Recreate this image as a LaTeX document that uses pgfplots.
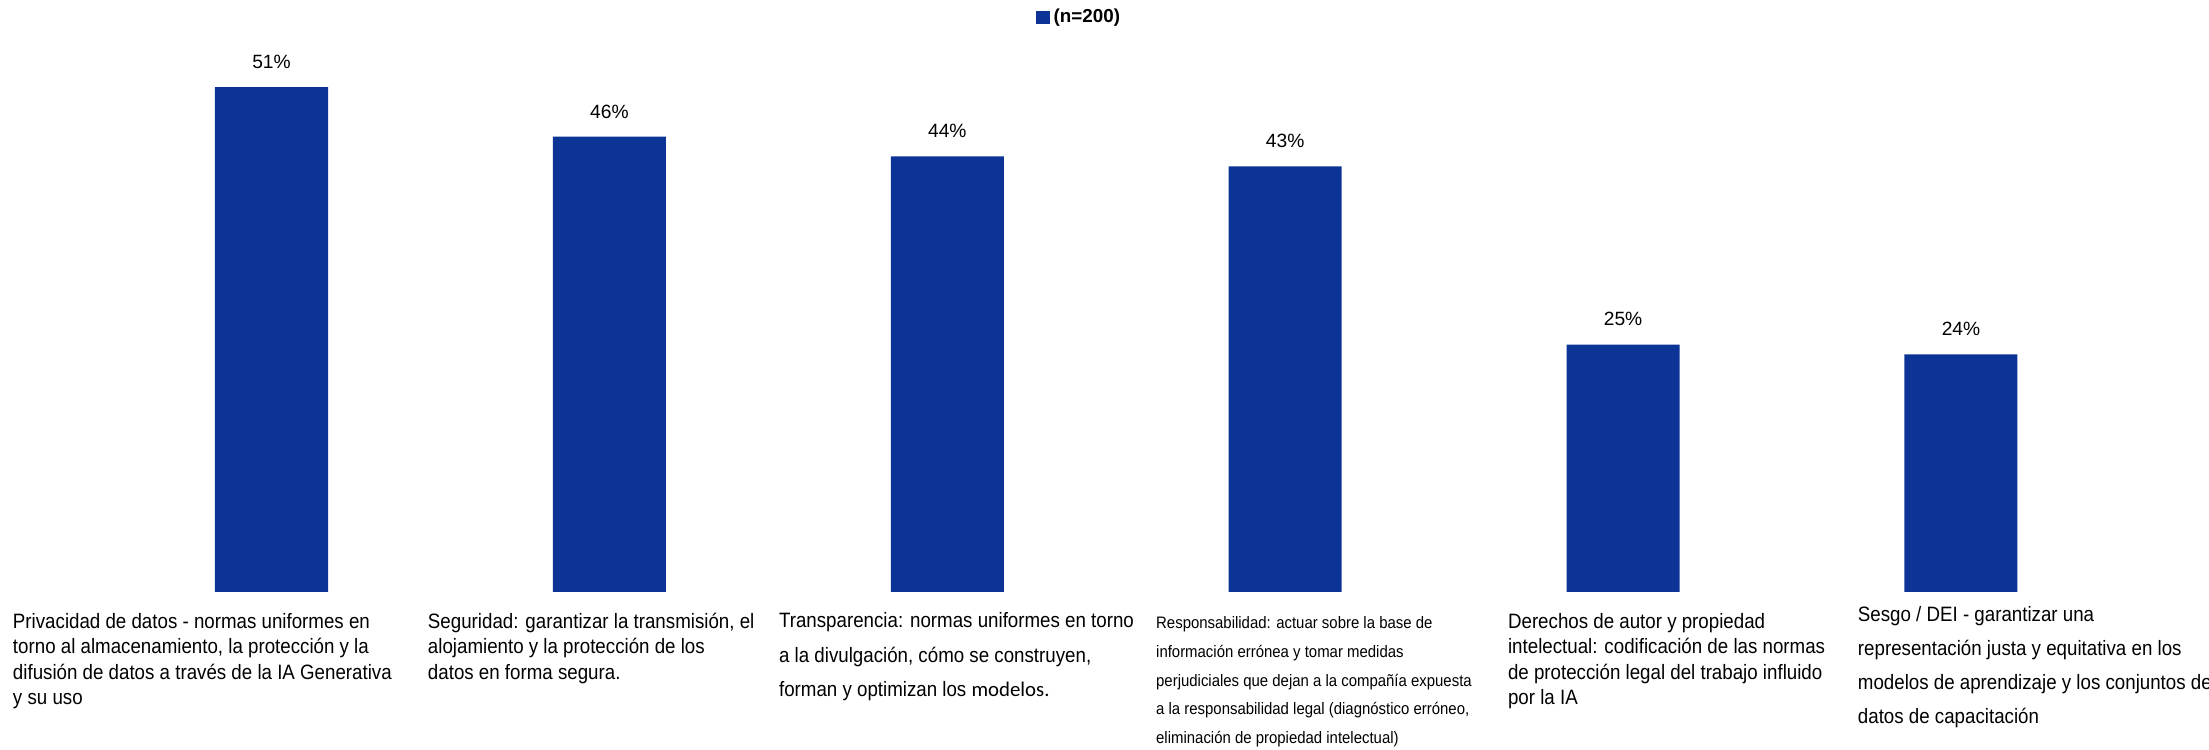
\documentclass[border=0pt]{standalone}
\usepackage{fontspec}
\setmainfont{Liberation Sans}
\newfontfamily\labfont[FakeStretch=0.9]{Liberation Sans}
\newfontfamily\calfont{Carlito}
\usepackage{pgfplots}
\pgfplotsset{compat=1.18}
\definecolor{barblue}{RGB}{12,52,150}
% #1 horizontal offset, #2 drop of first baseline, #3 font size, #4 baselineskip, #5 text
\newcommand{\catlab}[5]{\makebox[0pt][l]{\hspace*{#1}\raisebox{-#2}[0pt][0pt]{\parbox[t]{320pt}{\labfont\fontsize{#3}{#4}\selectfont #5}}}}
\begin{document}
\begin{tikzpicture}
\useasboundingbox (0,-78.5pt) rectangle (1104.5pt,296pt);
\begin{axis}[
  at={(0,0)}, anchor=south west,
  scale only axis,
  width=1104.5pt, height=296pt,
  xmin=-0.8035, xmax=5.734,
  ymin=0, ymax=59.8,
  axis line style={draw=none},
  major tick length=0pt,
  ytick=\empty,
  xtick={0,1,2,3,4,5},
  xticklabel style={anchor=north west, inner sep=0pt, outer sep=0pt},
  xticklabels={
    {\catlab{-129.75pt}{18pt}{10.4}{12.5}{Privacidad de datos - normas uniformes en\\torno al almacenamiento, la protección y la\\difusión de datos a través de la IA Generativa\\y su uso}},
    {\catlab{-91.2pt}{18pt}{10.4}{12.5}{Seguridad: garantizar la transmisión, el\\alojamiento y la protección de los\\datos en forma segura.}},
    {\catlab{-84.6pt}{17.5pt}{10.4}{17.2}{Transparencia: normas uniformes en torno\\a la divulgación, cómo se construyen,\\forman y optimizan los {\calfont modelos.}}},
    {\catlab{-65pt}{18pt}{8.3}{14.3}{Responsabilidad: actuar sobre la base de\\información errónea y tomar medidas\\perjudiciales que dejan a la compañía expuesta\\a la responsabilidad legal (diagnóstico erróneo,\\eliminación de propiedad intelectual)}},
    {\catlab{-58pt}{18pt}{10.4}{12.5}{Derechos de autor y propiedad\\intelectual: codificación de las normas\\de protección legal del trabajo influido\\por la IA}},
    {\catlab{-52pt}{14.5pt}{10.4}{16.9}{Sesgo / DEI - garantizar una\\representación justa y equitativa en los\\modelos de aprendizaje y los conjuntos de\\datos de capacitación}}
  },
  clip=false,
  /pgf/number format/assume math mode=true,
  nodes near coords={\pgfmathprintnumber{\pgfplotspointmeta}\%},
  nodes near coords style={font=\fontsize{9.6}{11}\selectfont, anchor=south, inner sep=0pt, yshift=9pt, text=black},
  legend style={at={(rel axis cs:0.489,0.971)}, anchor=center, draw=none, fill=none,
    font=\fontsize{9.4}{11}\selectfont\bfseries, inner sep=0pt,
    /tikz/every even column/.append style={column sep=2pt}},
  legend image code/.code={\fill[barblue] (0pt,-3.3pt) rectangle (6.7pt,3.3pt);},
]
\addplot[ybar, bar width=56.5pt, fill=barblue, draw=none]
  coordinates {(0,51) (1,46) (2,44) (3,43) (4,25) (5,24)};
\addlegendentry{(n=200)}
\end{axis}
\end{tikzpicture}
\end{document}
